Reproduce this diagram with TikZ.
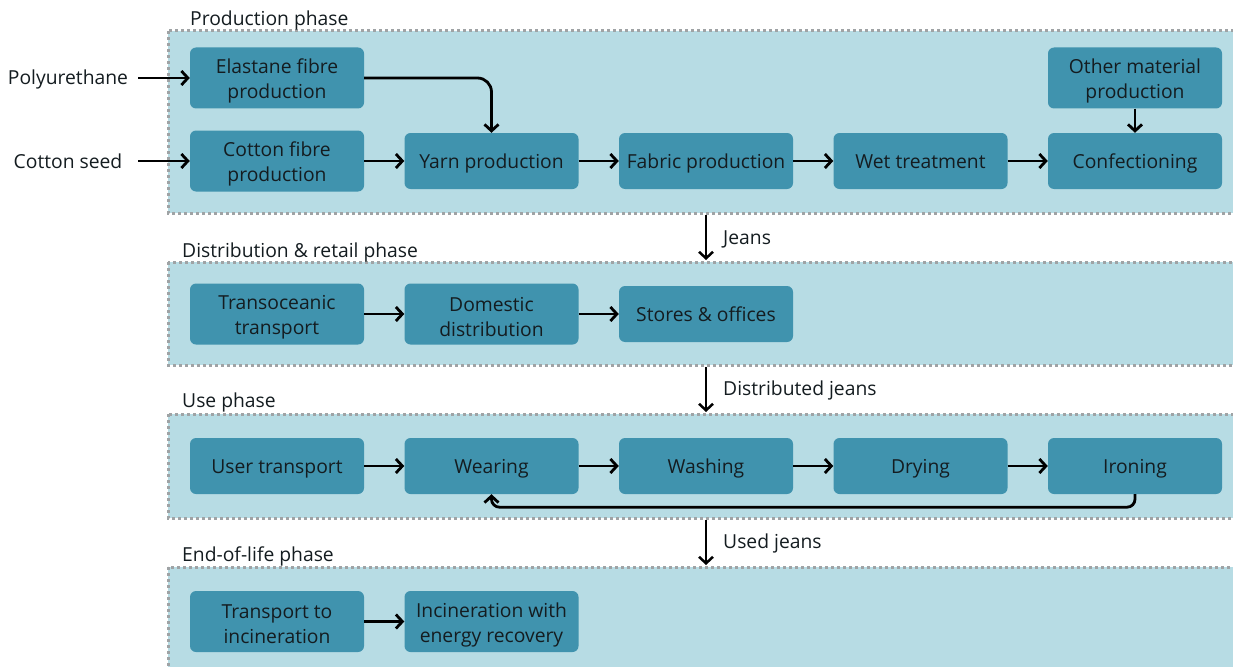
\documentclass[tikz,border=0pt]{standalone}
\usepackage{fontspec}
\setmainfont{Open Sans}
\usetikzlibrary{arrows.meta,positioning}
\definecolor{panelfill}{HTML}{B7DCE4}
\definecolor{boxfill}{HTML}{4093AE}
\definecolor{panelline}{HTML}{9FA3A5}
\definecolor{ink}{HTML}{141C20}
\begin{document}
\begin{tikzpicture}[x=1pt,y=-1pt,
  panel/.style={fill=panelfill,draw=panelline,line width=3pt,dash pattern=on 3pt off 3pt},
  twotext/.style={text=ink,align=center,font=\fontsize{19.3}{25}\selectfont,inner sep=0pt,yshift=-3pt},
  onetext/.style={text=ink,font=\fontsize{19.3}{25}\selectfont,inner sep=0pt,
    text height=0.75em,text depth=0.2em,yshift=-4.5pt},
  stepbox/.style={fill=boxfill,rounded corners=6pt,minimum width=174pt,inner sep=0pt},
  onebox/.style={stepbox,minimum height=56pt},
  twobox/.style={stepbox,minimum height=61pt},
  flow/.style={-{Straight Barb[length=6.5pt,width=14pt,line width=2.8pt]},line width=2.8pt,black},
  phaseflow/.style={-{Straight Barb[length=6.5pt,width=14pt,line width=2.5pt]},line width=2.5pt,black},
  phaselabel/.style={anchor=base west,text=ink,font=\fontsize{19.3}{23}\selectfont,inner sep=0pt},
  plainlabel/.style={text=ink,font=\fontsize{19.3}{23}\selectfont,inner sep=0pt}]
\clip (0,0) rectangle (1233,666);
\useasboundingbox (0,0) rectangle (1233,666);
\fill[white] (0,0) rectangle (1233,666);

% phase panels
\draw[panel] (168,31) rectangle (1245,213);
\draw[panel] (168,262) rectangle (1245,365);
\draw[panel] (168,414) rectangle (1245,518);
\draw[panel] (168,567) rectangle (1245,690);

\node[phaselabel] (lprod) at (190,26) {Production phase};
\node[phaselabel] (ldist) at (182,257) {Distribution \& retail phase};
\node[phaselabel] (luse) at (182,407) {Use phase};
\node[phaselabel] (leol) at (182,561) {End-of-life phase};

% production phase
\node[twobox] (elast) at (277,78) {};
\node[twotext] at (elast.center) {Elastane fibre\\production};
\node[twobox] (other) at (1135,78) {};
\node[twotext] at (other.center) {Other material\\production};
\node[twobox] (cotfib) at (277,161) {};
\node[twotext] at (cotfib.center) {Cotton fibre\\production};
\node[onebox] (yarn) at (491.5,161) {};
\node[onetext] at (yarn.center) {Yarn production};
\node[onebox] (fabric) at (706,161) {};
\node[onetext] at (fabric.center) {Fabric production};
\node[onebox] (wet) at (920.5,161) {};
\node[onetext] at (wet.center) {Wet treatment};
\node[onebox] (conf) at (1135,161) {};
\node[onetext] at (conf.center) {Confectioning};

\node[plainlabel] (poly) at (68,79) {Polyurethane};
\node[plainlabel] (seed) at (68,161) {Cotton seed};
\coordinate (polyend) at (138,78);
\coordinate (seedend) at (138,161);
\draw[flow] (polyend) -- (elast.west);
\draw[flow] (seedend) -- (cotfib.west);
\draw[flow,rounded corners=14pt] (elast.east) -- (yarn.north |- elast.east) -- (yarn.north);
\draw[flow] (cotfib.east) -- (yarn.west);
\draw[flow] (yarn) -- (fabric);
\draw[flow] (fabric) -- (wet);
\draw[flow] (wet) -- (conf);
\draw[flow] (other) -- (conf);

% distribution & retail phase
\node[twobox] (trans) at (277,314) {};
\node[twotext] at (trans.center) {Transoceanic\\transport};
\node[twobox] (domest) at (491.5,314) {};
\node[twotext] at (domest.center) {Domestic\\distribution};
\node[onebox] (stores) at (706,314) {};
\node[onetext] at (stores.center) {Stores \& offices};
\draw[flow] (trans) -- (domest);
\draw[flow] (domest) -- (stores);

% use phase
\node[onebox] (usertr) at (277,466) {};
\node[onetext] at (usertr.center) {User transport};
\node[onebox] (wear) at (491.5,466) {};
\node[onetext] at (wear.center) {Wearing};
\node[onebox] (wash) at (706,466) {};
\node[onetext] at (wash.center) {Washing};
\node[onebox] (dry) at (920.5,466) {};
\node[onetext] at (dry.center) {Drying};
\node[onebox] (iron) at (1135,466) {};
\node[onetext] at (iron.center) {Ironing};
\draw[flow] (usertr) -- (wear);
\draw[flow] (wear) -- (wash);
\draw[flow] (wash) -- (dry);
\draw[flow] (dry) -- (iron);
\draw[flow,rounded corners=8pt] (iron.south) -- ++(0,13) -| (wear.south);

% end-of-life phase
\node[twobox] (tinc) at (277,621.5) {};
\node[twotext] at (tinc.center) {Transport to\\incineration};
\node[twobox] (incin) at (491.5,621.5) {};
\node[twotext] at (incin.center) {Incineration with\\energy recovery};
\draw[flow] (tinc) -- (incin);

% flows between phases
\coordinate (a1) at (706,215);
\coordinate (a2) at (706,260);
\coordinate (b1) at (706,367);
\coordinate (b2) at (706,412);
\coordinate (c1) at (706,520);
\coordinate (c2) at (706,565);
\draw[phaseflow] (a1) -- (a2);
\draw[phaseflow] (b1) -- (b2);
\draw[phaseflow] (c1) -- (c2);
\node[plainlabel,anchor=west] (jeans) at (723,239) {Jeans};
\node[plainlabel,anchor=west] (djeans) at (723,390) {Distributed jeans};
\node[plainlabel,anchor=west] (ujeans) at (723,543) {Used jeans};
\end{tikzpicture}
\end{document}
